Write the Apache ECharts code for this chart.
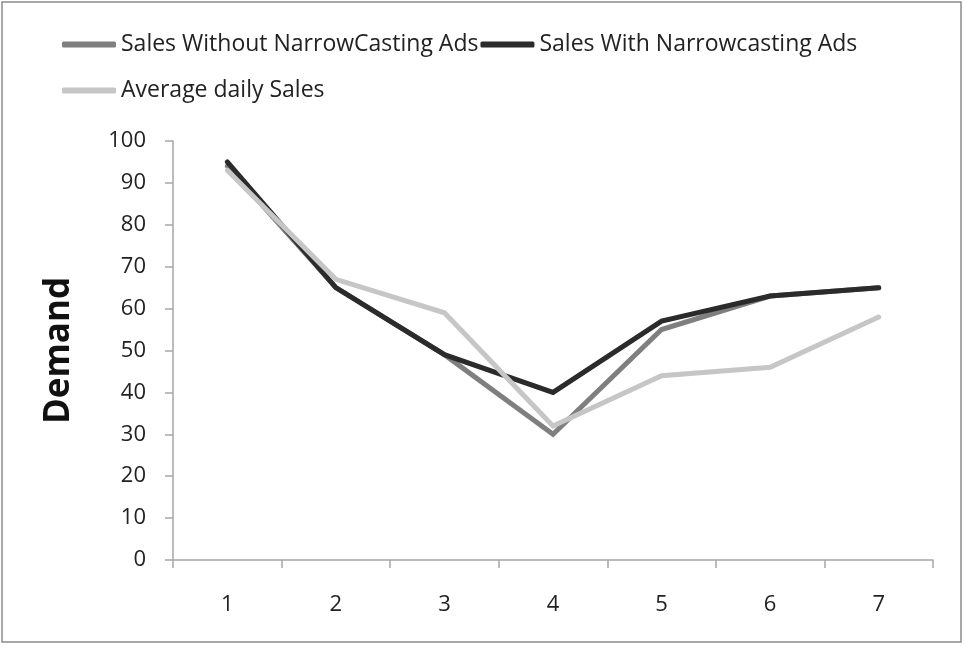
<!DOCTYPE html>
<html>
<head>
<meta charset="utf-8">
<script src="https://cdn.jsdelivr.net/npm/echarts@6/dist/echarts.min.js"></script>
<style>html,body{margin:0;padding:0;background:#fff;}#c{width:964px;height:646px;}</style>
</head>
<body>
<div id="c"></div>
<script>
const categories = ['1', '2', '3', '4', '5', '6', '7'];
const salesWithout = [94, 65, 49, 30, 55, 63, 65];
const salesWith = [95, 65, 49, 40, 57, 63, 65];
const averageDaily = [93, 67, 59, 32, 44, 46, 58];
const seriesNames = ['Sales Without NarrowCasting Ads', 'Sales With Narrowcasting Ads', 'Average daily Sales'];

const FONT = '"Open Sans", "Noto Sans", sans-serif';
const chart = echarts.init(document.getElementById('c'), null, {renderer: 'canvas'});
const legendText = {fontFamily: FONT, fontSize: 23, color: '#222'};
function mkSeries(name, data, color) {
  return {
    name: name, type: 'line', data: data, symbol: 'none',
    lineStyle: {color: color, width: 5, cap: 'round', join: 'miter'},
    itemStyle: {color: color}
  };
}
chart.setOption({
  animation: false,
  backgroundColor: '#fff',
  graphic: [{
    type: 'rect', shape: {x: 2, y: 2, width: 959, height: 640},
    style: {fill: 'none', stroke: '#8c8c8c', lineWidth: 1.5}, silent: true
  }],
  legend: [{
    data: [seriesNames[0], seriesNames[1]], left: 62, top: 33, icon: 'roundRect',
    itemWidth: 54, itemHeight: 6, itemGap: 2, textStyle: legendText, padding: 0
  }, {
    data: [seriesNames[2]], left: 62, top: 79, icon: 'roundRect',
    itemWidth: 54, itemHeight: 6, itemGap: 2, textStyle: legendText, padding: 0
  }],
  grid: {left: 173, right: 31, top: 141, bottom: 86, containLabel: false},
  xAxis: {
    type: 'category', data: categories, boundaryGap: true,
    axisLine: {lineStyle: {color: '#a6a6a6', width: 1.5}},
    axisTick: {show: true, inside: false, length: 8, alignWithLabel: false, lineStyle: {color: '#a6a6a6', width: 1.5}},
    axisLabel: {fontFamily: FONT, fontSize: 22, color: '#222', margin: 34}
  },
  yAxis: {
    type: 'value', min: 0, max: 100, interval: 10,
    name: 'Demand', nameLocation: 'middle', nameGap: 96, nameRotate: 90,
    nameTextStyle: {fontFamily: FONT, fontSize: 35, fontWeight: 'bold', color: '#111'},
    axisLine: {show: true, lineStyle: {color: '#a6a6a6', width: 1.5}},
    axisTick: {show: true, inside: false, length: 8, lineStyle: {color: '#a6a6a6', width: 1.5}},
    splitLine: {show: false},
    axisLabel: {fontFamily: FONT, fontSize: 22, color: '#222', margin: 27}
  },
  series: [
    mkSeries(seriesNames[0], salesWithout, '#7f7f7f'),
    mkSeries(seriesNames[1], salesWith, '#2b2b2b'),
    mkSeries(seriesNames[2], averageDaily, '#c6c6c6')
  ]
});
</script>
</body>
</html>
